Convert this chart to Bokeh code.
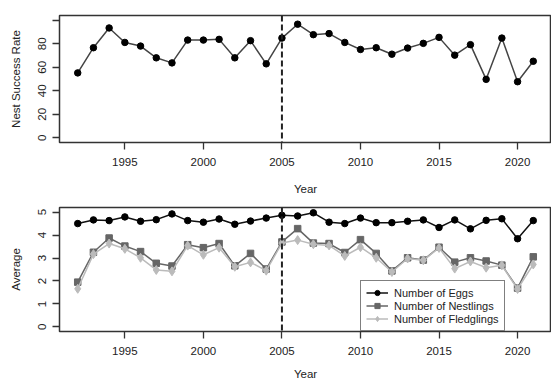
from bokeh.plotting import figure
from bokeh.models import Range1d, Span, Legend, LegendItem, FixedTicker
from bokeh.layouts import column
from bokeh.embed import file_html
from bokeh.resources import INLINE

years = list(range(1992, 2022))
nest_success = [55.2, 76.6, 93.4, 81.1, 78.0, 68.0, 63.7, 83.1, 83.1, 83.7,
                68.0, 82.6, 62.9, 84.8, 96.6, 87.7, 88.6, 81.1, 75.1, 76.6,
                71.1, 76.3, 80.3, 85.4, 70.3, 79.2, 49.7, 84.8, 47.7, 65.1]
eggs = [4.50, 4.66, 4.63, 4.79, 4.60, 4.67, 4.92, 4.63, 4.56, 4.70,
        4.47, 4.61, 4.74, 4.86, 4.83, 4.97, 4.56, 4.50, 4.74, 4.54,
        4.54, 4.60, 4.66, 4.33, 4.66, 4.27, 4.64, 4.71, 3.84, 4.63]
nestlings = [1.95, 3.25, 3.87, 3.52, 3.28, 2.77, 2.65, 3.58, 3.45, 3.63,
             2.66, 3.20, 2.52, 3.70, 4.28, 3.65, 3.63, 3.24, 3.80, 3.20,
             2.44, 3.01, 2.91, 3.47, 2.82, 3.01, 2.87, 2.69, 1.69, 3.05]
fledglings = [1.66, 3.17, 3.63, 3.40, 3.01, 2.48, 2.42, 3.54, 3.14, 3.45,
              2.62, 2.81, 2.45, 3.65, 3.78, 3.60, 3.55, 3.09, 3.47, 3.01,
              2.39, 2.98, 2.90, 3.44, 2.54, 2.85, 2.58, 2.68, 1.65, 2.72]
x_ticks = [1995, 2000, 2005, 2010, 2015, 2020]
top_y_ticks = [0, 20, 40, 60, 80, 100]
bottom_y_ticks = [0, 1, 2, 3, 4, 5]
event_year = 2005
series_labels = ["Number of Eggs", "Number of Nestlings", "Number of Fledglings"]

FONT = "Liberation Sans"
TXT = "#222222"
FS = "11.5px"


def style(p, yticks, ylabel):
    p.outline_line_color = "#333333"
    p.outline_line_width = 1.5
    p.xgrid.visible = False
    p.ygrid.visible = False
    p.xaxis.ticker = FixedTicker(ticks=x_ticks)
    p.yaxis.ticker = FixedTicker(ticks=yticks)
    p.xaxis.axis_label = "Year"
    p.yaxis.axis_label = ylabel
    for ax in (p.xaxis[0], p.yaxis[0]):
        ax.axis_line_color = None
        ax.major_tick_out = 7
        ax.major_tick_in = 0
        ax.minor_tick_line_color = None
        ax.major_tick_line_color = "#333333"
        ax.major_tick_line_width = 1.3
        ax.major_label_text_font = FONT
        ax.major_label_text_font_size = FS
        ax.major_label_text_color = TXT
        ax.axis_label_text_font = FONT
        ax.axis_label_text_font_size = FS
        ax.axis_label_text_font_style = "normal"
        ax.axis_label_text_color = TXT
    p.yaxis.major_label_orientation = "vertical"
    p.yaxis.major_label_standoff = 6
    p.yaxis.axis_label_standoff = 14
    p.xaxis.major_label_standoff = 8


p1 = figure(width=551, height=200, output_backend="svg", toolbar_location=None,
            x_range=Range1d(1990.84, 2022.16), y_range=Range1d(-4, 104),
            min_border_left=59, min_border_right=0, min_border_top=15,
            min_border_bottom=58)
style(p1, top_y_ticks, "Nest Success Rate")
p1.xaxis.axis_label_standoff = 14
p1.yaxis.major_label_overrides = {100: ""}
p1.add_layout(Span(location=event_year, dimension="height", line_color="#222222",
                   line_width=2, line_dash="6 3"))
p1.line(years, nest_success, line_color="#444444", line_width=1.5)
p1.scatter(years, nest_success, marker="circle", size=6.5, color="black")

p2 = figure(width=551, height=182, output_backend="svg", toolbar_location=None,
            x_range=Range1d(1990.84, 2022.16), y_range=Range1d(-0.2, 5.2),
            min_border_left=59, min_border_right=0, min_border_top=7,
            min_border_bottom=49)
style(p2, bottom_y_ticks, "Average")
p2.xaxis.axis_label_standoff = 10
p2.add_layout(Span(location=event_year, dimension="height", line_color="#222222",
                   line_width=2, line_dash="6 3"))

l1 = p2.line(years, eggs, line_color="#111111", line_width=1.5)
s1 = p2.scatter(years, eggs, marker="circle", size=6.5, color="black")
l2 = p2.line(years, nestlings, line_color="#666666", line_width=1.5)
s2 = p2.scatter(years, nestlings, marker="square", size=6.5, color="#666666")
l3 = p2.line(years, fledglings, line_color="#bbbbbb", line_width=1.5)
s3 = p2.scatter(years, fledglings, marker="diamond", size=9, color="#bbbbbb")

legend = Legend(items=[LegendItem(label=series_labels[0], renderers=[l1, s1]),
                       LegendItem(label=series_labels[1], renderers=[l2, s2]),
                       LegendItem(label=series_labels[2], renderers=[l3, s3])],
                location=(301, 0))
legend.border_line_color = "black"
legend.border_line_width = 1
legend.background_fill_alpha = 1
legend.padding = 5
legend.spacing = 0
legend.margin = 0
legend.glyph_width = 22
legend.glyph_height = 13
legend.label_height = 13
legend.label_standoff = 6
legend.label_text_font = FONT
legend.label_text_font_size = "11px"
legend.label_text_color = TXT
p2.add_layout(legend)

layout = column(p1, p2, spacing=0)
open("out.html", "w").write(file_html(layout, INLINE))
